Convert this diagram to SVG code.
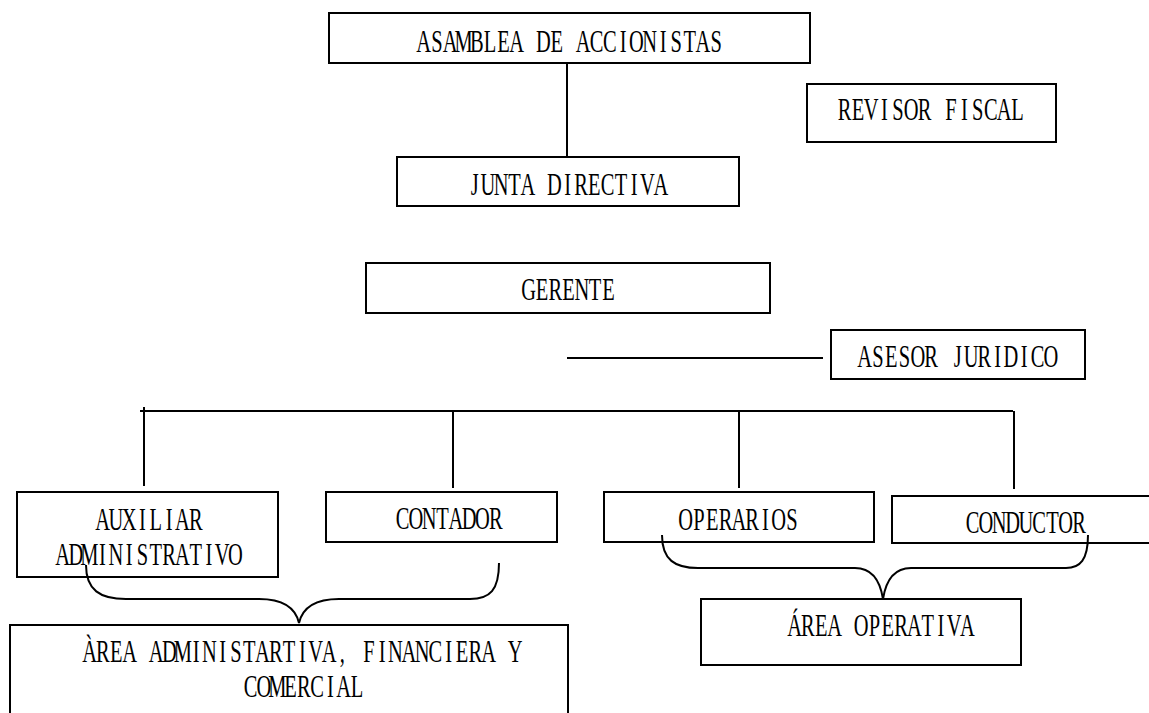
<svg xmlns="http://www.w3.org/2000/svg" width="1149" height="713" viewBox="0 0 1149 713">
<style>
.box{fill:#fff;stroke:#000;stroke-width:2}
.ln{fill:none;stroke:#000;stroke-width:2}
text{font-family:"Liberation Serif","Noto Serif",serif;font-size:31px;fill:#000;text-anchor:middle}
</style>
<rect width="1149" height="713" fill="#fff"/>
<g id="asamblea"><rect class="box" x="329" y="13" width="481" height="50"/><text transform="translate(417,52) scale(0.66,1)" x="10.1 30.2 50.4 70.5 90.7 110.8 131.0 151.1 171.3 191.4 211.6 231.7 251.9 272.0 292.2 312.3 332.5 352.6 372.8 392.9 413.1 433.2 453.4" y="0">ASAMBLEA DE ACCIONISTAS</text></g>
<g id="revisor"><rect class="box" x="807" y="84" width="249" height="58"/><text transform="translate(838,120) scale(0.66,1)" x="10.1 30.2 50.4 70.5 90.7 110.8 131.0 151.1 171.3 191.4 211.6 231.7 251.9 272.0" y="0">REVISOR FISCAL</text></g>
<g id="junta"><rect class="box" x="397" y="157" width="342" height="49"/><text transform="translate(468,195) scale(0.66,1)" x="10.1 30.2 50.4 70.5 90.7 110.8 131.0 151.1 171.3 191.4 211.6 231.7 251.9 272.0 292.2" y="0">JUNTA DIRECTIVA</text></g>
<g id="gerente"><rect class="box" x="366" y="263" width="404" height="50"/><text transform="translate(522,300) scale(0.66,1)" x="10.1 30.2 50.4 70.5 90.7 110.8 131.0" y="0">GERENTE</text></g>
<g id="asesor"><rect class="box" x="831" y="330" width="254" height="49"/><text transform="translate(858,367) scale(0.66,1)" x="10.1 30.2 50.4 70.5 90.7 110.8 131.0 151.1 171.3 191.4 211.6 231.7 251.9 272.0 292.2" y="0">ASESOR JURIDICO</text></g>
<g id="auxiliar"><rect class="box" x="17" y="492" width="261" height="85"/><text transform="translate(96,530) scale(0.66,1)" x="10.1 30.2 50.4 70.5 90.7 110.8 131.0 151.1" y="0">AUXILIAR</text><text transform="translate(56,565) scale(0.66,1)" x="10.1 30.2 50.4 70.5 90.7 110.8 131.0 151.1 171.3 191.4 211.6 231.7 251.9 272.0" y="0">ADMINISTRATIVO</text></g>
<g id="contador"><rect class="box" x="326" y="492" width="231" height="50"/><text transform="translate(396,529) scale(0.66,1)" x="10.1 30.2 50.4 70.5 90.7 110.8 131.0 151.1" y="0">CONTADOR</text></g>
<g id="operarios"><rect class="box" x="604" y="492" width="270" height="50"/><text transform="translate(679,530) scale(0.66,1)" x="10.1 30.2 50.4 70.5 90.7 110.8 131.0 151.1 171.3" y="0">OPERARIOS</text></g>
<g id="conductor"><rect class="box" x="892" y="496" width="270" height="47"/><text transform="translate(966,533) scale(0.66,1)" x="10.1 30.2 50.4 70.5 90.7 110.8 131.0 151.1 171.3" y="0">CONDUCTOR</text></g>
<g id="area-admin"><rect class="box" x="10" y="625" width="558" height="100"/><text transform="translate(83,662) scale(0.66,1)" x="10.1 30.2 50.4 70.5 90.7 110.8 131.0 151.1 171.3 191.4 211.6 231.7 251.9 272.0 292.2 312.3 332.5 352.6 372.8 392.9 413.1 433.2 453.4 473.5 493.7 513.8 534.0 554.1 574.3 594.4 614.6 634.7 654.9" y="0">ÀREA ADMINISTARTIVA, FINANCIERA Y</text><text transform="translate(244,697) scale(0.66,1)" x="10.1 30.2 50.4 70.5 90.7 110.8 131.0 151.1 171.3" y="0">COMERCIAL</text></g>
<g id="area-operativa"><rect class="box" x="701" y="599" width="320" height="66"/><text transform="translate(788,636) scale(0.66,1)" x="10.1 30.2 50.4 70.5 90.7 110.8 131.0 151.1 171.3 191.4 211.6 231.7 251.9 272.0" y="0">ÁREA OPERATIVA</text></g>
<g id="connectors">
<line class="ln" x1="567" y1="63" x2="567" y2="157"/>
<line class="ln" x1="567" y1="358" x2="823" y2="358"/>
<line class="ln" x1="140" y1="411" x2="1013" y2="411"/>
<line class="ln" x1="144" y1="407" x2="144" y2="486"/>
<line class="ln" x1="453" y1="411" x2="453" y2="488"/>
<line class="ln" x1="739" y1="411" x2="739" y2="488"/>
<line class="ln" x1="1014" y1="411" x2="1014" y2="489"/>
<path class="ln" d="M86,565 C86,590 100,599 126,599 L259,599 C285,599 296,610 299,623 C302,610 313,599 339,599 L470,599 C490,599 499,590 499,563"/>
<path class="ln" d="M662,535 C662,560 675,568 698,568 L855,568 C872,568 880,580 883,599 C886,580 894,568 911,568 L1066,568 C1080,568 1088,560 1088,535"/>
</g>
</svg>
